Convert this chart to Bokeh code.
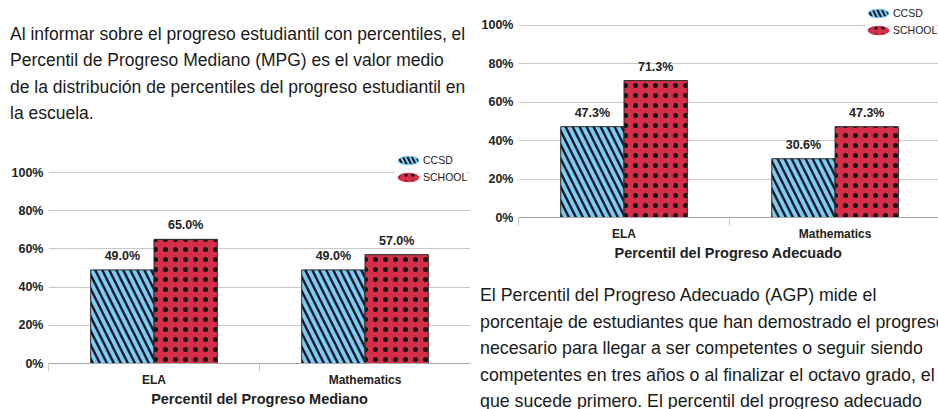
import numpy as np
from bokeh.plotting import figure
from bokeh.models import (ColumnDataSource, Range1d, FixedTicker, NumeralTickFormatter,
                          Legend, LegendItem, Div)
from bokeh.layouts import row, column
from bokeh.core.properties import value
from bokeh.transform import dodge
from bokeh.embed import file_html
from bokeh.resources import INLINE

# ---------------- data ----------------
categories = ["ELA", "Mathematics"]
series = ["CCSD", "SCHOOL"]
mpg_ccsd = [0.490, 0.490]
mpg_school = [0.650, 0.570]
agp_ccsd = [0.473, 0.306]
agp_school = [0.713, 0.473]
y_ticks = [0.0, 0.2, 0.4, 0.6, 0.8, 1.0]
mpg_title = "Percentil del Progreso Mediano"
agp_title = "Percentil del Progreso Adecuado"
text_mpg = [
    "Al informar sobre el progreso estudiantil con percentiles, el",
    "Percentil de Progreso Mediano (MPG) es el valor medio",
    "de la distribución de percentiles del progreso estudiantil en",
    "la escuela.",
]
text_agp = [
    "El Percentil del Progreso Adecuado (AGP) mide el",
    "porcentaje de estudiantes que han demostrado el progreso",
    "necesario para llegar a ser competentes o seguir siendo",
    "competentes en tres años o al finalizar el octavo grado, el",
    "que sucede primero. El percentil del progreso adecuado",
]

BLUE = "#7ecaf0"
RED = "#d52f4a"
FONT = "Liberation Sans"


def make_chart(ccsd, school, title, y_end, x_end, frame_w, frame_h, min_left, min_top):
    centers = [i + 0.5 for i in range(len(categories))]
    src = ColumnDataSource(dict(
        x=centers, cat=categories, ccsd=ccsd, school=school,
        ccsd_lbl=[f"{v * 100:.1f}%" for v in ccsd],
        school_lbl=[f"{v * 100:.1f}%" for v in school],
    ))
    p = figure(frame_width=frame_w, frame_height=frame_h,
               x_range=Range1d(0, x_end), y_range=Range1d(0, y_end),
               output_backend="svg", toolbar_location=None,
               min_border_left=min_left, min_border_right=0,
               min_border_top=min_top, min_border_bottom=46)
    p.outline_line_color = None
    p.background_fill_color = "white"

    p.vbar(x=dodge("x", -0.15), top="ccsd", width=0.3, source=src,
           fill_color=BLUE, line_color="#2a2a2a", line_width=1,
           hatch_pattern="\\", hatch_color="#0d1b2a", hatch_weight=2.4, hatch_scale=14)
    p.vbar(x=dodge("x", 0.15), top="school", width=0.3, source=src,
           fill_color=RED, line_color="#2a2a2a", line_width=1,
           hatch_pattern=".", hatch_color="#111111", hatch_scale=10)

    for fld, off in (("ccsd", -0.15), ("school", 0.15)):
        p.text(x=dodge("x", off), y=fld, text=fld + "_lbl", source=src,
               text_align="center", text_baseline="bottom", y_offset=-7,
               text_font=value(FONT), text_font_style="bold",
               text_font_size="12.5px", text_color="#222222")

    # legend glyphs (ovals)
    lsrc = ColumnDataSource(dict(x=np.array([np.nan]), y=np.array([np.nan])))
    e1 = p.ellipse(x="x", y="y", width=22, height=9, width_units="screen",
                   height_units="screen", source=lsrc, fill_color=BLUE, line_color=BLUE,
                   hatch_pattern="\\", hatch_color="#0d1b2a", hatch_weight=2, hatch_scale=9)
    e2 = p.ellipse(x="x", y="y", width=22, height=9, width_units="screen",
                   height_units="screen", source=lsrc, fill_color=RED, line_color=RED,
                   hatch_pattern=".", hatch_color="#111111", hatch_scale=7)

    common = dict(glyph_width=26, glyph_height=26, label_height=20, label_width=44,
                  spacing=0, padding=0, margin=0, label_standoff=2,
                  label_text_font=FONT, label_text_font_size="10.5px",
                  label_text_color="#222222", border_line_color=None,
                  background_fill_color="white")
    leg_school = Legend(items=[LegendItem(label=series[1], renderers=[e2])],
                        location=(347, frame_h - 43), background_fill_alpha=1.0, **common)
    leg_ccsd = Legend(items=[LegendItem(label=series[0], renderers=[e1])],
                      location=(347, frame_h - 26), background_fill_alpha=0.0, **common)
    p.add_layout(leg_school)
    p.add_layout(leg_ccsd)

    # y axis
    yax = p.yaxis[0]
    yax.ticker = FixedTicker(ticks=y_ticks)
    yax.formatter = NumeralTickFormatter(format="0%")
    yax.axis_line_color = None
    yax.major_tick_line_color = None
    yax.minor_tick_line_color = None
    yax.major_tick_out = 0
    yax.major_tick_in = 0
    yax.major_label_standoff = 5
    yax.major_label_text_font = FONT
    yax.major_label_text_font_style = "bold"
    yax.major_label_text_font_size = "12.5px"
    yax.major_label_text_color = "#222222"

    p.ygrid.ticker = FixedTicker(ticks=y_ticks)
    p.ygrid.grid_line_color = "#c8c8c8"
    p.xgrid.visible = False

    # x axis
    xax = p.xaxis[0]
    xax.ticker = FixedTicker(ticks=centers, minor_ticks=list(range(len(categories) + 1)))
    xax.major_label_overrides = {c: lbl for c, lbl in zip(centers, categories)}
    xax.major_tick_out = 8
    xax.major_tick_in = 0
    xax.major_tick_line_color = None
    xax.minor_tick_out = 8
    xax.minor_tick_in = 0
    xax.minor_tick_line_color = "#c8c8c8"
    xax.axis_line_color = "#a8a8a8"
    xax.major_label_standoff = 1
    xax.major_label_text_font = FONT
    xax.major_label_text_font_style = "bold"
    xax.major_label_text_font_size = "12px"
    xax.major_label_text_color = "#222222"
    xax.axis_label = title
    xax.axis_label_standoff = 1
    xax.axis_label_text_font = FONT
    xax.axis_label_text_font_style = "bold"
    xax.axis_label_text_font_size = "14.5px"
    xax.axis_label_text_color = "#222222"
    return p


def make_text(lines, w, h, pad_top, size, lh):
    html = ('<div style="font-family:\'Liberation Sans\',Arial,sans-serif;font-size:%spx;'
            'line-height:%spx;color:#1a1a1a;white-space:nowrap;padding:%dpx 0 0 10px;">'
            % (size, lh, pad_top) + "<br>".join(lines) + "</div>")
    return Div(text=html, width=w, height=h, margin=0,
               styles={"overflow": "hidden"})


# left column: text (0..144) + chart (144..409)
div_mpg = make_text(text_mpg, 470, 144, 21, 17.5, 26.3)
fig_mpg = make_chart(mpg_ccsd, mpg_school, mpg_title, y_end=1.131, x_end=2.0,
                     frame_w=422, frame_h=216, min_left=48, min_top=3)
# right column: chart (0..263) + text (263..409)
fig_agp = make_chart(agp_ccsd, agp_school, agp_title, y_end=1.13, x_end=1.99,
                     frame_w=420, frame_h=217, min_left=48, min_top=0)
div_agp = make_text(text_agp, 468, 146, 19, 17.8, 26.5)

layout = row(column(div_mpg, fig_mpg), column(fig_agp, div_agp))

open("out.html", "w").write(file_html(layout, INLINE))
